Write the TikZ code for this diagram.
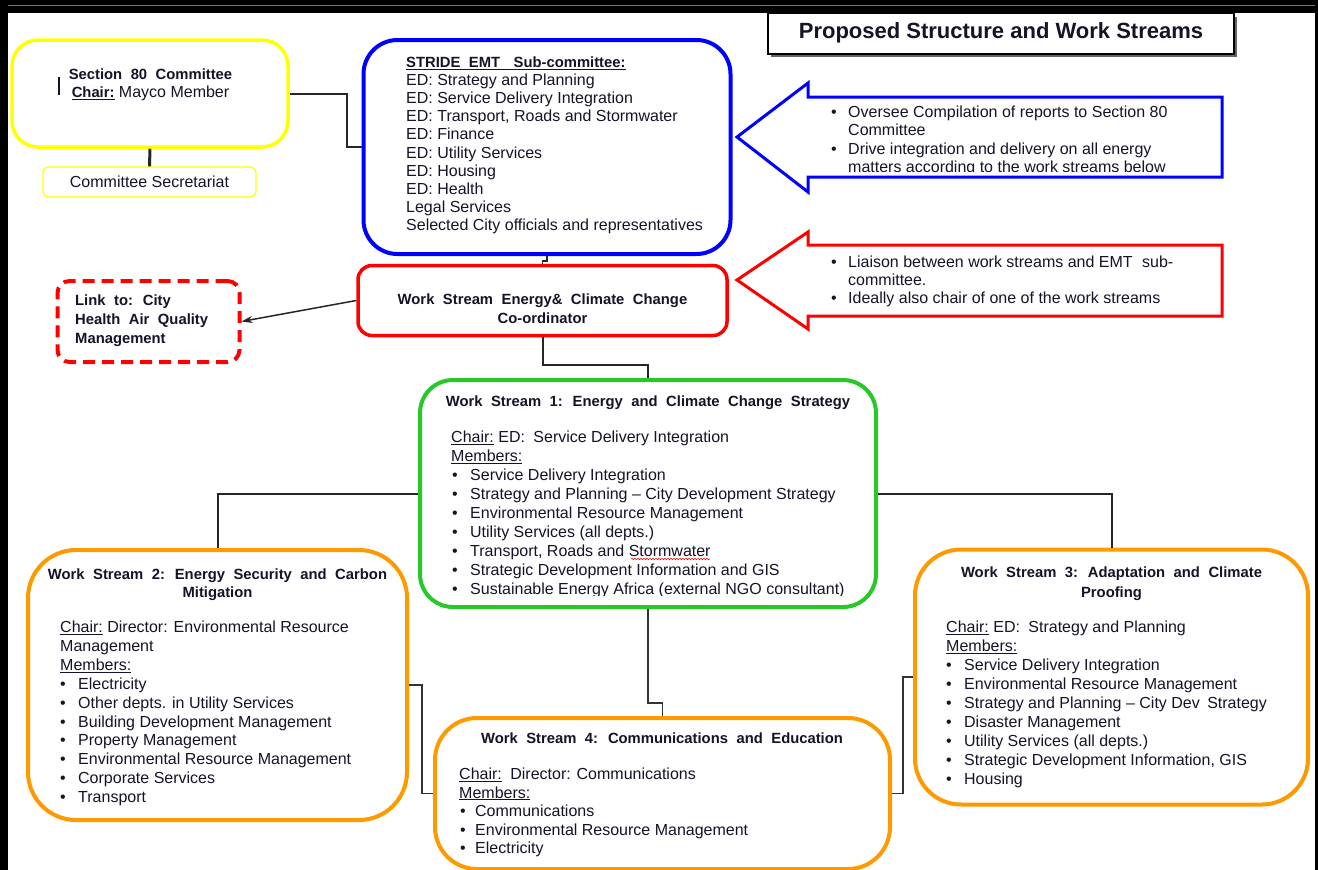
\documentclass[tikz,border=0pt]{standalone}
\usepackage{fontspec}
\setmainfont{Liberation Sans}
\usetikzlibrary{arrows.meta,decorations.pathmorphing}
\definecolor{txt}{RGB}{20,20,40}
\definecolor{yel}{RGB}{255,255,0}
\definecolor{blu}{RGB}{0,0,255}
\definecolor{rd}{RGB}{255,0,0}
\definecolor{grn}{RGB}{40,200,40}
\definecolor{org}{RGB}{255,153,0}
\newcommand\btx[1]{{\fontsize{14.8}{16}\selectfont\bfseries\spaceskip=8.5pt\relax #1}}
\newcommand\itm[3]{\hspace*{#1}\makebox[#2][l]{•}#3}
\begin{document}
\begin{tikzpicture}[x=1pt,y=-1pt,
  rbox/.style={draw, rectangle, inner sep=0pt, fill=white},
  body/.style={font=\fontsize{16}{#1}\selectfont, text=txt, inner sep=0pt, align=left, anchor=base west},
  ctext/.style={font=\fontsize{16}{#1}\selectfont, text=txt, inner sep=0pt, align=center, anchor=base},
  conn/.style={draw=black!85, line width=2pt},
  conn2/.style={draw=black!80, line width=1.5pt}]
\useasboundingbox (0,0) rectangle (1318,870);
\fill[white] (0,0) rectangle (1318,870);
% frame
\fill[black] (0,0) rectangle (1318,13);
\draw[black!55, line width=1pt] (0,5) -- (1318,5);
\fill[black] (0,0) rectangle (8,870);
\fill[black] (1315,0) rectangle (1318,870);
% title
\fill[black!60] (771,17) rectangle (1237,57);
\node[rbox, draw=black, line width=1.2pt, minimum width=466pt, minimum height=41pt] (title) at (1001,33.5) {};
\node[font=\fontsize{22}{24}\selectfont\bfseries, text=txt, inner sep=0pt] (titletxt) at (1001,33) {Proposed Structure and Work Streams};
% boxes
\node[rbox, draw=yel, line width=3.5pt, rounded corners=26pt, minimum width=276pt, minimum height=107pt] (sec80) at (150,93.5) {};
\node[rbox, draw=yel, line width=1.2pt, rounded corners=6pt, minimum width=213pt, minimum height=30pt, font=\fontsize{16}{18}\selectfont, text=txt] (secr) at (149.5,182) {Committee Secretariat};
\node[rbox, draw=blu, line width=4pt, rounded corners=34pt, minimum width=367pt, minimum height=214pt] (stride) at (547,147) {};
\node[rbox, draw=rd, line width=3.5pt, rounded corners=14pt, minimum width=369pt, minimum height=70pt] (coord) at (542.5,300.5) {};
\node[rbox, draw=rd, line width=4pt, dash pattern=on 12pt off 7pt, rounded corners=12pt, minimum width=182pt, minimum height=81pt] (link) at (148.5,321.5) {};
\node[rbox, draw=grn, line width=4pt, rounded corners=33pt, minimum width=456pt, minimum height=227pt] (ws1) at (648,493.5) {};
\node[rbox, draw=org, line width=4pt, rounded corners=48pt, minimum width=379pt, minimum height=270pt] (ws2) at (217.5,685) {};
\node[rbox, draw=org, line width=4pt, rounded corners=46pt, minimum width=393pt, minimum height=255pt] (ws3) at (1111.5,677) {};
\node[rbox, draw=org, line width=4pt, rounded corners=42pt, minimum width=455pt, minimum height=151pt] (ws4) at (662.5,793.5) {};
% block arrows
\draw[blu, line width=3pt, line join=miter, fill=white] (737,137) -- (808,83) -- (808,97) -- (1222,97) -- (1222,177) -- (808,177) -- (808,192) -- cycle;
\draw[rd, line width=3pt, line join=miter, fill=white] (737,280) -- (808,232) -- (808,245) -- (1222,245) -- (1222,316) -- (808,316) -- (808,329) -- cycle;
% connectors
\coordinate (j0) at (347,93.5);
\draw[conn] (sec80.east) -- (j0) |- (stride.west);
\draw[conn, line width=3pt] (sec80.south) -- (secr.north);
\coordinate (j1) at (547,261);
\draw[conn, line width=1.5pt] (stride.south) -- (j1) -| (coord.north);
\draw[draw=black!85, line width=1.5pt, -{Stealth[length=11pt,width=7pt]}] (coord.west) -- (link.east);
\coordinate (j2) at (542.5,365);
\draw[conn] (coord.south) -- (j2) -| (ws1.north);
\draw[conn] (ws1.west) -| (ws2.north);
\draw[conn] (ws1.east) -| (ws3.north);
\coordinate (j3) at (648,703);
\draw[conn2] (ws1.south) -- (j3) -| (ws4.north);
\coordinate (j4) at (422,685);
\draw[conn2] (ws2.east) -- (j4) |- (ws4.west);
\coordinate (j5) at (903,793.5);
\draw[conn2] (ws4.east) -- (j5) |- (ws3.west);
% cursor mark
\draw[line width=2pt, txt] (59,77) -- (59,95);
% texts (anchor base = baseline of the last line)
\node[ctext=18] (sec80txt) at (150.5,97.5) {\btx{Section 80 Committee}\\\btx{\underline{Chair:}} Mayco Member};
\node[body=18.1] (stridetxt) at (406,230.4) {\btx{\underline{STRIDE EMT\hspace{5pt} Sub-committee:}}\\
ED: Strategy and Planning\\
ED: Service Delivery Integration\\
ED: Transport, Roads and Stormwater\\
ED: Finance\\
ED: Utility Services\\
ED: Housing\\
ED: Health\\
Legal Services\\
Selected City officials and representatives};
\begin{scope}
\clip (808,97) rectangle (1222,171.5);
\node[body=18.5] (bluetxt) at (831,172.5) {\itm{0pt}{17pt}{Oversee Compilation of reports to Section 80}\\
\hspace*{17pt}Committee\\
\itm{0pt}{17pt}{Drive integration and delivery on all energy}\\
\hspace*{17pt}matters according to the work streams below};
\end{scope}
\node[body=18] (redtxt) at (831,303) {\itm{0pt}{17pt}{Liaison between work streams and EMT\hspace{5pt} sub-}\\
\hspace*{17pt}committee.\\
\itm{0pt}{17pt}{Ideally also chair of one of the work streams}};
\node[ctext=19] (coordtxt) at (542.5,323.5) {\btx{Work Stream Energy\& Climate Change}\\\btx{Co-ordinator}};
\node[body=19] (linktxt) at (75,343.5) {\btx{Link to: City}\\\btx{Health Air Quality}\\\btx{Management}};
% WS1
\node[ctext=18] (ws1title) at (648,406.5) {\btx{Work Stream 1: Energy and Climate Change Strategy}};
\begin{scope}
\clip (420,420) rectangle (877,595);
\node[body=19] (ws1txt) at (451,594.5) {\underline{Chair:} ED:\hspace{4pt} Service Delivery Integration\\
\underline{Members:}\\
\itm{1pt}{18pt}{Service Delivery Integration}\\
\itm{1pt}{18pt}{Strategy and Planning – City Development Strategy}\\
\itm{1pt}{18pt}{Environmental Resource Management}\\
\itm{1pt}{18pt}{Utility Services (all depts.)}\\
\itm{1pt}{18pt}{Transport, Roads and Stormwater}\\
\itm{1pt}{18pt}{Strategic Development Information and GIS}\\
\itm{1pt}{18pt}{Sustainable Energy Africa (external NGO consultant)}};
\end{scope}
\draw[rd, line width=0.6pt, decorate, decoration={snake, amplitude=0.7pt, segment length=3pt}] (631,559) -- (710,559);
% WS2
\node[ctext=18] (ws2title) at (217.5,597) {\btx{Work Stream 2: Energy Security and Carbon}\\\btx{Mitigation}};
\node[body=18.9] (ws2txt) at (60,802.6) {\underline{Chair:} Director: Environmental Resource\\
Management\\
\underline{Members:}\\
\itm{0pt}{18pt}{Electricity}\\
\itm{0pt}{18pt}{Other depts. in Utility Services}\\
\itm{0pt}{18pt}{Building Development Management}\\
\itm{0pt}{18pt}{Property Management}\\
\itm{0pt}{18pt}{Environmental Resource Management}\\
\itm{0pt}{18pt}{Corporate Services}\\
\itm{0pt}{18pt}{Transport}};
% WS3
\node[ctext=20] (ws3title) at (1111.5,597) {\btx{Work Stream 3: Adaptation and Climate}\\\btx{Proofing}};
\node[body=19] (ws3txt) at (946,784.5) {\underline{Chair:} ED:\hspace{4pt} Strategy and Planning\\
\underline{Members:}\\
\itm{0pt}{18pt}{Service Delivery Integration}\\
\itm{0pt}{18pt}{Environmental Resource Management}\\
\itm{0pt}{18pt}{Strategy and Planning – City Dev\hspace{3pt} Strategy}\\
\itm{0pt}{18pt}{Disaster Management}\\
\itm{0pt}{18pt}{Utility Services (all depts.)}\\
\itm{0pt}{18pt}{Strategic Development Information, GIS}\\
\itm{0pt}{18pt}{Housing}};
% WS4
\node[ctext=18] (ws4title) at (662,743.5) {\btx{Work Stream 4: Communications and Education}};
\node[body=18.5] (ws4txt) at (459,853.5) {\underline{Chair:}\hspace{4pt} Director: Communications\\
\underline{Members:}\\
\itm{1pt}{15pt}{Communications}\\
\itm{1pt}{15pt}{Environmental Resource Management}\\
\itm{1pt}{15pt}{Electricity}};
\end{tikzpicture}
\end{document}
